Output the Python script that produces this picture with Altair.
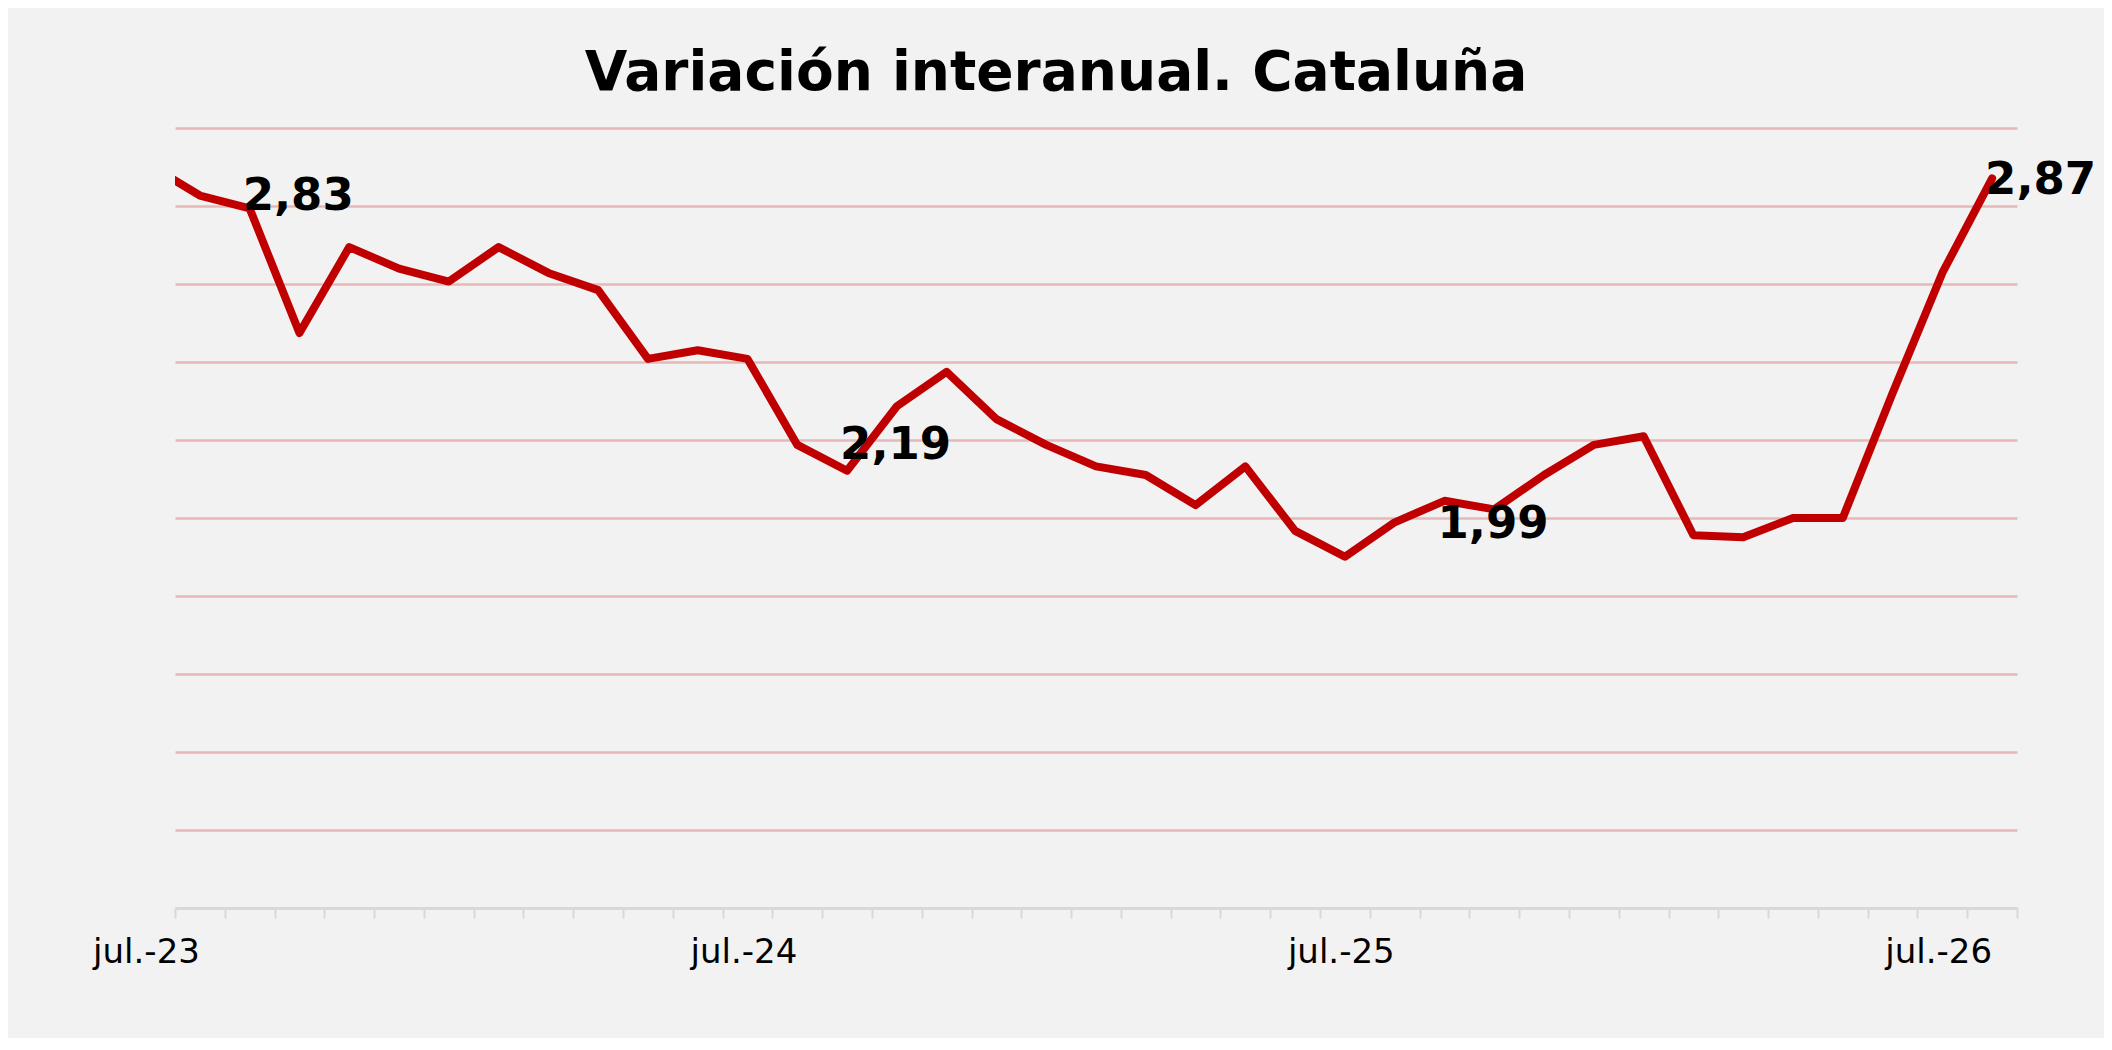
import altair as alt
import pandas as pd
import numpy as np

TITLE = "Variación interanual. Cataluña"

MONTHS = [
    "jul.-23", "ago.-23", "sep.-23", "oct.-23", "nov.-23", "dic.-23",
    "ene.-24", "feb.-24", "mar.-24", "abr.-24", "may.-24", "jun.-24",
    "jul.-24", "ago.-24", "sep.-24", "oct.-24", "nov.-24", "dic.-24",
    "ene.-25", "feb.-25", "mar.-25", "abr.-25", "may.-25", "jun.-25",
    "jul.-25", "ago.-25", "sep.-25", "oct.-25", "nov.-25", "dic.-25",
    "ene.-26", "feb.-26", "mar.-26", "abr.-26", "may.-26", "jun.-26",
    "jul.-26", "ago.-26",
]
VALUES = [
    2.90, 2.83, 2.80, 2.51, 2.71, 2.66, 2.63, 2.71, 2.65, 2.61,
    2.45, 2.47, 2.45, 2.25, 2.19, 2.34, 2.42, 2.31, 2.25, 2.20,
    2.18, 2.11, 2.20, 2.05, 1.99, 2.07, 2.12, 2.10, 2.18, 2.25,
    2.27, 2.04, 2.035, 2.08, 2.08, 2.37, 2.65, 2.87,
]
TICK_LABEL_MONTHS = ["jul.-23", "jul.-24", "jul.-25", "jul.-26"]

ANN_MONTHS = ["sep.-23", "sep.-24", "sep.-25", "ago.-26"]
ANN_TEXT = ["2,83", "2,19", "1,99", "2,87"]
ANN_VALUE = [2.83, 2.19, 1.99, 2.87]

Y_MIN, Y_MAX = 1.173, 2.987

# --- build tables ---------------------------------------------------------
pos = {m: i - 1 for i, m in enumerate(MONTHS)}
df = pd.DataFrame({"mes": MONTHS, "pos": [pos[m] for m in MONTHS], "valor": VALUES})
ann = pd.DataFrame({
    "pos": [pos[m] for m in ANN_MONTHS],
    "valor": ANN_VALUE,
    "texto": ANN_TEXT,
})

tick_vals = [p + 0.5 for p in range(-1, len(MONTHS) - 1)]
label_expr = "''"
for m in TICK_LABEL_MONTHS:
    label_expr = f"datum.value == {pos[m] + 0.5} ? '{m}' : " + label_expr
grid_vals = [float(v) for v in np.linspace(Y_MIN, Y_MAX, 11)]

FONT = "DejaVu Sans"
x_scale = alt.Scale(domain=[-0.5, len(MONTHS) - 1.5], nice=False, zero=False)
y_scale = alt.Scale(domain=[Y_MIN, Y_MAX], nice=False, zero=False)

line = alt.Chart(df).mark_line(
    color="#c00000", strokeWidth=8, clip=True, strokeJoin="round", strokeCap="round"
).encode(
    x=alt.X("pos:Q", scale=x_scale, axis=alt.Axis(
        values=tick_vals, labelExpr=label_expr, title=None, grid=False,
        labelOffset=-29, labelFlush=False, labelOverlap=False,
        tickSize=10, tickWidth=2, tickColor="#d9d9d9",
        domainColor="#d9d9d9", domainWidth=2.5,
        labelFont=FONT, labelFontSize=34, labelColor="#000000", labelPadding=17,
    )),
    y=alt.Y("valor:Q", scale=y_scale, axis=alt.Axis(
        values=grid_vals, labels=False, ticks=False, domain=False, title=None,
        grid=True, gridColor="#e6b9b8", gridWidth=2.5,
    )),
)

NUDGE = {"2,83": 0, "2,19": -26, "1,99": -33, "2,87": 2}
labels = []
for t in ANN_TEXT:
    labels.append(
        alt.Chart(ann).transform_filter(alt.datum.texto == t).mark_text(
            font=FONT, fontSize=45, fontWeight="bold", color="#000000",
            align="left", baseline="middle", dx=-7, dy=NUDGE[t],
        ).encode(
            x=alt.X("pos:Q", scale=x_scale),
            y=alt.Y("valor:Q", scale=y_scale),
            text="texto:N",
        )
    )

chart = alt.layer(line, *labels).properties(
    width=1842,
    height=780,
    title=alt.TitleParams(
        TITLE, font=FONT, fontSize=55, fontWeight="bold", color="#000000",
        anchor="middle", dx=-40, dy=56, offset=39, baseline="alphabetic",
    ),
    autosize=alt.AutoSizeParams(type="none"),
    padding={"left": 167, "top": 120, "right": 87, "bottom": 130},
).configure(background="#f2f2f2").configure_view(strokeWidth=0)

chart.save("out.html", embed_options={"renderer": "svg", "actions": False})
